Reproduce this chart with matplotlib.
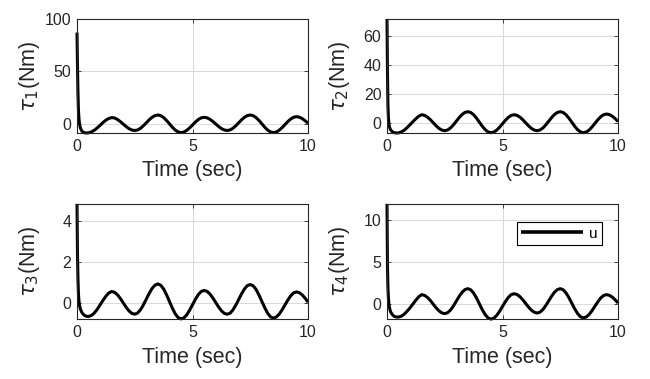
import numpy as np
import matplotlib
matplotlib.use('Agg')
import matplotlib.pyplot as plt

# time samples (s): dense at the start, then every 0.125 s
t_start = [0, 0.02, 0.04, 0.06, 0.08, 0.1, 0.125, 0.15, 0.2, 0.25, 0.3, 0.4, 0.5]
t = np.concatenate([t_start, np.arange(0.625, 10.001, 0.125)])

# torques (Nm)
tau1 = [87, 55, 30, 14, 6, 1.5, -2, -4, -6.5, -7.8, -8.4, -8.7, -8.5,
        -7.6, -6.0, -3.8, -1.3, 1.3, 3.6, 5.2, 6.0,
        5.68, 4.20, 2.21, -0.15, -2.51, -4.50, -5.83, -6.3,
        -5.74, -4.13, -1.73, 1.1, 3.93, 6.33, 7.94, 8.5,
        7.86, 6.04, 3.32, 0.1, -3.12, -5.84, -7.66, -8.3,
        -7.75, -6.16, -3.80, -1.0, 1.80, 4.16, 5.75, 6.3,
        5.82, 4.45, 2.41, 0.0, -2.41, -4.45, -5.82, -6.3,
        -5.74, -4.13, -1.73, 1.1, 3.93, 6.33, 7.94, 8.5,
        7.86, 6.04, 3.32, 0.1, -3.12, -5.84, -7.66, -8.3,
        -7.72, -6.07, -3.61, -0.7, 2.21, 4.67, 6.32, 6.9,
        6.42, 5.05, 3.01, 0.6]
tau2 = [71.7, 35, 12, 4, 0, -2.2, -3.6, -4.5, -5.6, -6.2, -6.6, -6.9, -6.8,
        -6.1, -4.9, -3.1, -1.1, 1.0, 3.0, 4.7, 5.7,
        5.28, 4.09, 2.31, 0.2, -1.91, -3.69, -4.88, -5.3,
        -4.80, -3.38, -1.26, 1.25, 3.76, 5.88, 7.30, 7.8,
        7.25, 5.68, 3.33, 0.55, -2.23, -4.58, -6.15, -6.7,
        -6.23, -4.88, -2.87, -0.5, 1.87, 3.88, 5.23, 5.7,
        5.28, 4.09, 2.31, 0.2, -1.91, -3.69, -4.88, -5.3,
        -4.80, -3.38, -1.26, 1.25, 3.76, 5.88, 7.30, 7.8,
        7.25, 5.68, 3.33, 0.55, -2.23, -4.58, -6.15, -6.7,
        -6.21, -4.81, -2.72, -0.25, 2.22, 4.31, 5.71, 6.2,
        5.81, 4.71, 3.05, 1.1]
tau3 = [4.85, 2.4, 1.2, 0.5, 0.15, -0.05, -0.2, -0.3, -0.43, -0.52, -0.58, -0.64, -0.65,
        -0.6, -0.48, -0.3, -0.08, 0.14, 0.34, 0.5, 0.57,
        0.53, 0.41, 0.23, 0.015, -0.20, -0.38, -0.50, -0.54,
        -0.48, -0.32, -0.08, 0.2, 0.48, 0.72, 0.88, 0.94,
        0.875, 0.69, 0.41, 0.085, -0.24, -0.52, -0.70, -0.77,
        -0.72, -0.57, -0.34, -0.075, 0.19, 0.42, 0.57, 0.62,
        0.58, 0.45, 0.26, 0.04, -0.18, -0.37, -0.50, -0.54,
        -0.49, -0.33, -0.09, 0.185, 0.46, 0.70, 0.86, 0.91,
        0.85, 0.67, 0.40, 0.09, -0.22, -0.49, -0.67, -0.73,
        -0.68, -0.54, -0.33, -0.09, 0.15, 0.36, 0.50, 0.55,
        0.51, 0.40, 0.24, 0.05]
tau4 = [11.9, 4.5, 2.0, 0.8, 0.1, -0.3, -0.6, -0.85, -1.1, -1.28, -1.4, -1.5, -1.5,
        -1.4, -1.15, -0.8, -0.4, 0.05, 0.5, 0.9, 1.15,
        1.06, 0.82, 0.46, 0.025, -0.41, -0.77, -1.02, -1.1,
        -0.99, -0.67, -0.19, 0.38, 0.95, 1.43, 1.75, 1.86,
        1.72, 1.33, 0.75, 0.055, -0.64, -1.22, -1.61, -1.75,
        -1.64, -1.31, -0.82, -0.245, 0.33, 0.82, 1.15, 1.26,
        1.17, 0.92, 0.55, 0.115, -0.32, -0.69, -0.94, -1.03,
        -0.92, -0.61, -0.14, 0.415, 0.97, 1.44, 1.75, 1.86,
        1.73, 1.35, 0.79, 0.13, -0.53, -1.09, -1.47, -1.6,
        -1.50, -1.20, -0.75, -0.225, 0.30, 0.75, 1.05, 1.15,
        1.07, 0.86, 0.54, 0.16]

series = [tau1, tau2, tau3, tau4]
ylabels = [r'$\tau_1$(Nm)', r'$\tau_2$(Nm)', r'$\tau_3$(Nm)', r'$\tau_4$(Nm)']
ylims = [(-8.7, 100), (-6.9, 71.7), (-0.78, 4.85), (-1.75, 11.9)]
yticks = [[0, 50, 100], [0, 20, 40, 60], [0, 2, 4], [0, 5, 10]]

plt.rcParams['font.family'] = ['Liberation Sans', 'DejaVu Sans']
plt.rcParams['mathtext.fontset'] = 'dejavusans'

fig = plt.figure(figsize=(6.5, 3.79), dpi=100)
rects = [[0.1185, 0.649, 0.3554, 0.301],
         [0.5954, 0.649, 0.3554, 0.301],
         [0.1185, 0.158, 0.3554, 0.304],
         [0.5954, 0.158, 0.3554, 0.304]]

for i in range(4):
    ax = fig.add_axes(rects[i])
    ax.plot(t, series[i], color='black', lw=2.2, label='u',
            clip_on=False, solid_capstyle='butt')
    ax.set_xlim(0, 10)
    ax.set_ylim(*ylims[i])
    ax.set_xticks([0, 5, 10])
    ax.set_yticks(yticks[i])
    ax.grid(True, color='#d9d9d9', lw=0.7)
    ax.set_axisbelow(True)
    ax.tick_params(direction='in', length=3, width=0.6, top=True, right=True,
                   labelsize=11.5, labelcolor='#262626', color='#262626', pad=4)
    for s in ax.spines.values():
        s.set_color('#262626')
        s.set_linewidth(0.8)
    ax.set_xlabel('Time (sec)', fontsize=15.5, color='#262626')
    ax.set_ylabel(ylabels[i], fontsize=15.5, color='#262626')
    ax.xaxis.set_label_coords(0.5, -0.24)
    ax.yaxis.set_label_coords(-0.15, 0.5)
    if i == 3:
        leg = ax.legend(loc='upper right', bbox_to_anchor=(0.93, 0.843),
                        fontsize=11, handlelength=4, handletextpad=0.4,
                        borderpad=0.3, borderaxespad=0, fancybox=False,
                        framealpha=1)
        leg.get_frame().set_edgecolor('black')
        leg.get_frame().set_linewidth(0.8)
        leg.get_lines()[0].set_linewidth(2.6)

fig.savefig('out.png', dpi=100)
